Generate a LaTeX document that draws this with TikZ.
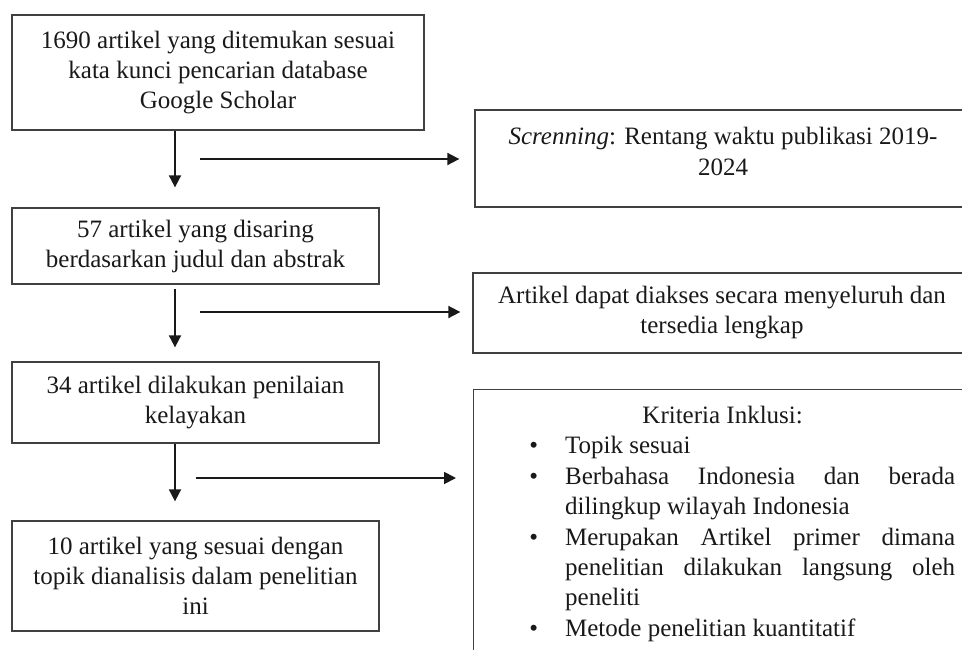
\documentclass[tikz,border=0pt]{standalone}
\usepackage{fontspec}
\setmainfont{Liberation Serif}
\usetikzlibrary{arrows.meta,positioning}
\newcommand\butir{\par\noindent\llap{\textbullet\hspace{27pt}}}
\tikzset{
  kotak/.style={draw=black!75, line width=1.3pt, align=center, inner sep=0pt, text=black!90,
    font=\fontsize{25}{30}\selectfont},
  teks/.style={inner sep=0pt, text=black!90, font=\fontsize{25}{30.4}\selectfont},
  panah/.style={-{Triangle[length=12pt,width=12pt]}, line width=1.8pt, draw=black!90},
}
\begin{document}
\begin{tikzpicture}[x=1pt,y=-1pt]
\clip (0,0) rectangle (962,649);
\useasboundingbox (0,0) rectangle (962,649);

% alur kiri
\node[kotak, minimum width=412pt, minimum height=115pt] (b1) at (218,72.5)
  {1690 artikel yang ditemukan sesuai\\kata kunci pencarian database\\Google Scholar};
\node[kotak, minimum width=367pt, minimum height=76pt] (b2) at (195.5,246)
  {57 artikel yang disaring\\berdasarkan judul dan abstrak};
\node[kotak, minimum width=367pt, minimum height=81pt] (b3) at (195.5,402.5)
  {34 artikel dilakukan penilaian\\kelayakan};
\node[kotak, minimum width=367pt, minimum height=110pt] (b4) at (195.5,576)
  {10 artikel yang sesuai dengan\\topik dianalisis dalam penelitian\\ini};

% kotak kanan
\node[kotak, minimum width=496pt, minimum height=97pt] (r1) at (723,158.5) {};
\node[teks, align=center, yshift=7pt] (r1teks) at (r1.center)
  {\textit{Screnning}: Rentang waktu publikasi 2019-\\2024};
\node[kotak, minimum width=498pt, minimum height=80pt] (r2) at (722,313)
  {Artikel dapat diakses secara menyeluruh dan\\tersedia lengkap};
\node[kotak, anchor=north west, minimum width=498pt, minimum height=320pt] (r3) at (473,389) {};
\node[teks, anchor=north, text width=465pt, align=justify, yshift=-17pt] (krit) at (r3.north)
  {\noindent\hbox to\hsize{\hfil Kriteria Inklusi:\hfil}\par\leftskip=75pt
   \butir Topik sesuai
   \butir Berbahasa Indonesia dan berada\linebreak dilingkup wilayah Indonesia
   \butir Merupakan Artikel primer dimana\linebreak penelitian dilakukan langsung oleh\linebreak peneliti
   \butir Metode penelitian kuantitatif\par};

% panah turun
\draw[panah, shorten >=20pt] (175,0 |- b1.south) -- (175,0 |- b2.north);
\draw[panah, shorten <=4pt, shorten >=14pt] (175,0 |- b2.south) -- (175,0 |- b3.north);
\draw[panah, shorten >=19pt] (175,0 |- b3.south) -- (175,0 |- b4.north);

% panah ke kanan
\coordinate (a1) at (200,159);
\coordinate (a2) at (200,312);
\coordinate (a3) at (196,478);
\draw[panah, shorten >=15pt] (a1) -- (a1 -| r1.west);
\draw[panah, shorten >=12pt] (a2) -- (a2 -| r2.west);
\draw[panah, shorten >=17pt] (a3) -- (a3 -| r3.west);
\end{tikzpicture}
\end{document}
